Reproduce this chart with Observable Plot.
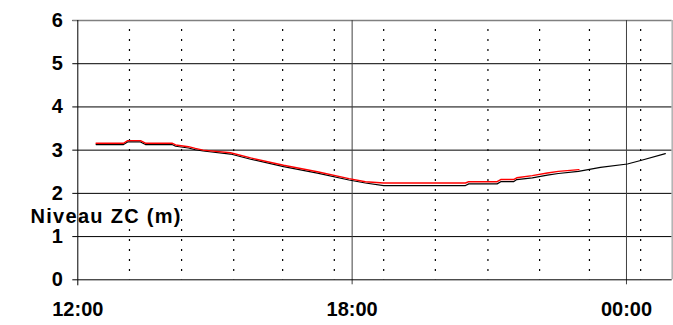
<!DOCTYPE html>
<html>
<head>
<meta charset="utf-8">
<script src="https://cdn.jsdelivr.net/npm/d3@7"></script>
<script src="https://cdn.jsdelivr.net/npm/@observablehq/plot@0.6"></script>
<style>
  html, body { margin: 0; padding: 0; background: #fff; }
  #chart svg { display: block; }
</style>
</head>
<body>
<div id="chart"></div>
<script>
// Time in hours after 12:00, water level (m, ZC)
const blackHours = [0.40, 1.00, 1.09, 1.37, 1.48, 2.06, 2.14, 2.42, 2.57, 2.74, 3.34, 3.78, 4.50, 5.24, 5.93, 6.29, 6.69, 8.48, 8.55, 9.17, 9.25, 9.53, 9.60, 9.94, 10.27, 10.51, 10.95, 11.43, 12.02, 12.31, 12.85];
const blackLevels = [3.13, 3.13, 3.19, 3.19, 3.13, 3.13, 3.09, 3.05, 3.01, 2.98, 2.91, 2.79, 2.62, 2.47, 2.31, 2.24, 2.18, 2.18, 2.22, 2.22, 2.27, 2.27, 2.32, 2.36, 2.42, 2.46, 2.51, 2.60, 2.68, 2.76, 2.92];
const redHours = [0.40, 1.00, 1.09, 1.37, 1.48, 2.06, 2.14, 2.42, 2.57, 2.74, 3.34, 3.78, 4.50, 5.24, 5.93, 6.29, 6.69, 8.48, 8.55, 9.17, 9.25, 9.53, 9.60, 9.94, 10.27, 10.51, 10.96];
const redLevels = [3.16, 3.16, 3.22, 3.22, 3.16, 3.16, 3.12, 3.08, 3.04, 3.00, 2.94, 2.82, 2.65, 2.50, 2.34, 2.27, 2.24, 2.24, 2.27, 2.27, 2.32, 2.32, 2.36, 2.41, 2.47, 2.51, 2.55];
const majorHours = [0, 6, 12];
const majorLabels = ["12:00", "18:00", "00:00"];
const minorGridHours = [1.13, 2.27, 3.41, 4.48, 5.61, 6.69, 7.82, 8.97, 10.10, 11.19, 12.31];
const yTicks = [0, 1, 2, 3, 4, 5, 6];
const yInnerGrid = [1, 2, 3, 4, 5];
const yTitle = "Niveau ZC (m)";

const black = blackHours.map((h, i) => ({h, v: blackLevels[i]}));
const red = redHours.map((h, i) => ({h, v: redLevels[i]}));

const chart = Plot.plot({
  width: 673,
  height: 325,
  marginLeft: 77.3,
  marginRight: 1.3,
  marginTop: 20,
  marginBottom: 45.7,
  style: {fontFamily: "'Liberation Sans', Arial, sans-serif", fontWeight: "bold", fontSize: "20px", color: "#000", background: "#fff"},
  x: {
    domain: [0, 13],
    ticks: majorHours,
    tickFormat: (d) => majorLabels[majorHours.indexOf(d)],
    tickSize: 0,
    tickPadding: 22,
    label: null
  },
  y: {
    domain: [0, 6],
    ticks: yTicks,
    tickFormat: (d) => String(d),
    tickSize: 5,
    tickPadding: 10,
    label: null
  },
  marks: [
    Plot.ruleX(minorGridHours, {stroke: "#000", strokeWidth: 1.2, strokeDasharray: "2,8", strokeDashoffset: -9}),
    Plot.ruleY(yInnerGrid, {stroke: "#000", strokeWidth: 1}),
    Plot.ruleY([6], {stroke: "#808080", strokeWidth: 1.5, insetLeft: -5}),
    Plot.ruleX([6, 12], {stroke: "#404040", strokeWidth: 1, insetBottom: -5}),
    Plot.ruleX([13], {stroke: "#b0b0b0", strokeWidth: 1.5}),
    Plot.ruleY([0], {stroke: "#000", strokeWidth: 1}),
    Plot.ruleX([0], {stroke: "#000", strokeWidth: 1, insetBottom: -6}),
    Plot.line(black, {x: "h", y: "v", stroke: "#000", strokeWidth: 1.2}),
    Plot.line(red, {x: "h", y: "v", stroke: "#ff0000", strokeWidth: 1.4}),
    Plot.text([yTitle], {frameAnchor: "left", text: (d) => d, textAnchor: "start", dx: -47.3, dy: 66.4, fontSize: 20, fontWeight: "bold", fill: "#000", className: "ytitle"})
  ]
});
d3.select(chart).selectAll(".ytitle text").attr("textLength", 150).attr("lengthAdjust", "spacing");
document.getElementById("chart").appendChild(chart);
</script>
</body>
</html>
